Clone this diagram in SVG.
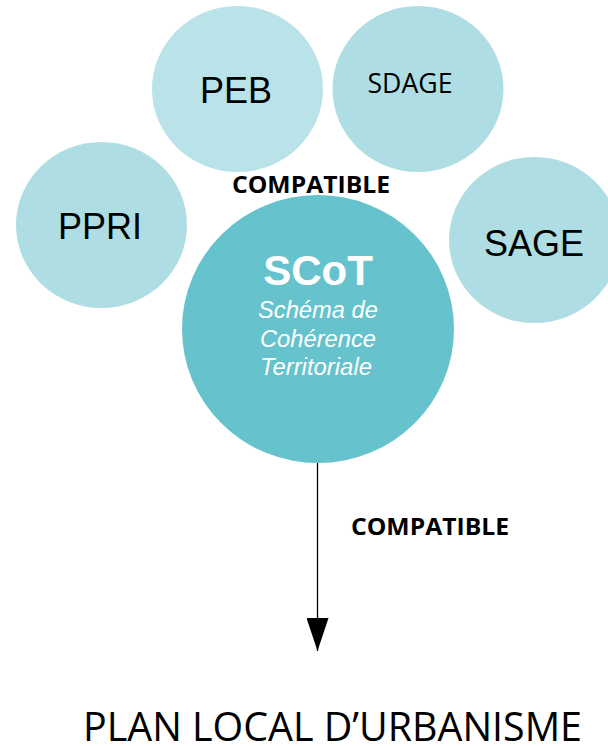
<svg xmlns="http://www.w3.org/2000/svg" width="608" height="746" viewBox="0 0 608 746">
<style>
.lt{fill:#AEDEE4}
.arial{font-family:"Liberation Sans",Arial,sans-serif;fill:#000}
.cal{font-family:"Open Sans","Noto Sans",sans-serif;fill:#000}
.w{font-family:"Liberation Sans",Arial,sans-serif;fill:#fff}
</style>
<defs>
<marker id="ah" markerWidth="33" markerHeight="22" refX="33" refY="11" orient="auto" markerUnits="userSpaceOnUse" viewBox="0 0 33 22">
<path d="M0,0 L33,11 L0,22 Z" fill="#000"/>
</marker>
</defs>
<rect width="608" height="746" fill="#fff"/>
<g id="peb"><ellipse cx="237.5" cy="89" rx="85.5" ry="83" fill="#B9E3E8"/><text class="arial" x="236" y="103" font-size="36" text-anchor="middle">PEB</text></g>
<g id="sdage"><ellipse cx="418" cy="89" rx="85.5" ry="83" class="lt"/><text class="cal" x="410" y="93" font-size="27" text-anchor="middle" textLength="85" lengthAdjust="spacingAndGlyphs">SDAGE</text></g>
<g id="ppri"><ellipse cx="101.5" cy="225" rx="85.5" ry="83" class="lt"/><text class="arial" x="100" y="239" font-size="36" text-anchor="middle">PPRI</text></g>
<g id="sage"><ellipse cx="534.5" cy="240" rx="85.5" ry="83" class="lt"/><text class="arial" x="534" y="256" font-size="36" text-anchor="middle">SAGE</text></g>
<g id="compatible-top"><text class="cal" x="311" y="193" font-size="23" font-weight="bold" text-anchor="middle" textLength="158" lengthAdjust="spacingAndGlyphs">COMPATIBLE</text></g>
<g id="scot"><ellipse cx="318" cy="329" rx="136" ry="134" fill="#66C2CC"/>
<text class="w" x="318" y="285" font-size="42" font-weight="bold" text-anchor="middle">SCoT</text>
<text class="w" x="258" y="318" font-size="23" font-style="italic" textLength="120" lengthAdjust="spacingAndGlyphs">Schéma de</text>
<text class="w" x="260" y="347" font-size="23" font-style="italic" textLength="116" lengthAdjust="spacingAndGlyphs">Cohérence</text>
<text class="w" x="260" y="375" font-size="23" font-style="italic" textLength="112" lengthAdjust="spacingAndGlyphs">Territoriale</text>
</g>
<g id="connectors">
<line x1="317.5" y1="463" x2="317.5" y2="651" stroke="#000" stroke-width="1.3" marker-end="url(#ah)"/>
</g>
<g id="compatible-bottom"><text class="cal" x="430" y="535" font-size="23" font-weight="bold" text-anchor="middle" textLength="158" lengthAdjust="spacingAndGlyphs">COMPATIBLE</text></g>
<g id="plu"><text class="cal" x="83" y="741" font-size="41" textLength="499" lengthAdjust="spacingAndGlyphs">PLAN LOCAL D’URBANISME</text></g>
</svg>
